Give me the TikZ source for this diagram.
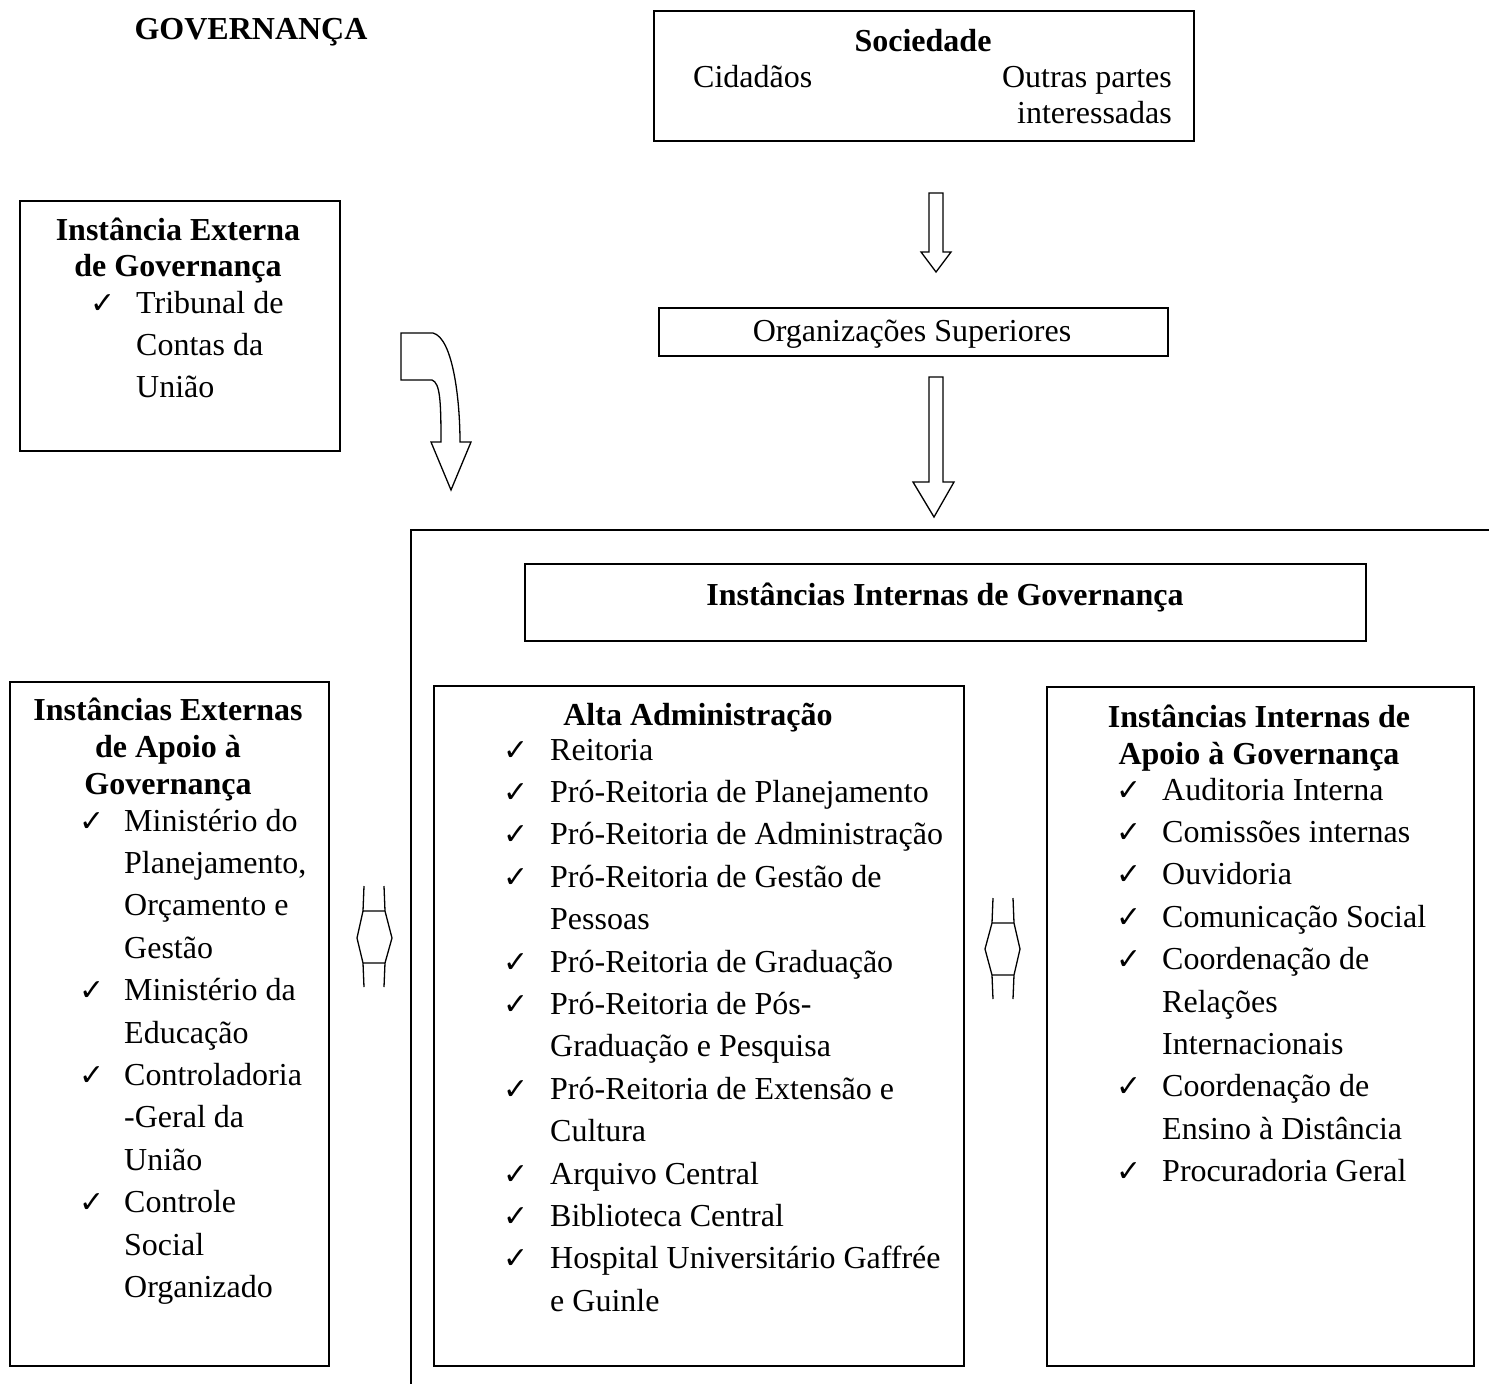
\documentclass[tikz,border=0pt]{standalone}
\usepackage{fontspec}
\setmainfont{Liberation Serif}
\newfontfamily\symf{DejaVu Sans}
\newcommand{\lines}[1]{\begin{tabular}[t]{@{}l@{}}#1\end{tabular}}
\begin{document}
\begin{tikzpicture}[x=1pt,y=-1pt,
  box/.style={draw,line width=1.6pt,inner sep=0pt,anchor=north west},
  txt/.style={font=\fontsize{32}{42.4}\selectfont,inner sep=0pt,anchor=base west},
  ctr/.style={font=\fontsize{32}{37}\selectfont,inner sep=0pt,anchor=base},
  hdr/.style={font=\fontsize{32}{37}\bfseries\selectfont,inner sep=0pt,anchor=base},
  chk/.style={font=\fontsize{30}{30}\symf\bfseries\selectfont,inner sep=0pt,anchor=base west},
  blk/.style={draw,line width=1.3pt,line join=miter,fill=white}]
\useasboundingbox (0,0) rectangle (1489,1384);

% title
\node[hdr] (title) at (251,39) {GOVERNANÇA};

% Sociedade
\node[box,minimum width=540pt,minimum height=130pt] (soc) at (653,10) {};
\node[hdr] (socT) at (923,51) {Sociedade};
\node[txt] (cid) at (693,87) {Cidadãos};
\node[ctr,anchor=base east] (out1) at (1172,87) {Outras partes};
\node[ctr,anchor=base east] (out2) at (1172,123) {interessadas};

% arrow 1
\draw[blk] (929,193) -- (943,193) -- (943,252) -- (951,252) -- (936,272) -- (921,252) -- (929,252) -- cycle;

% Organizacoes
\node[box,minimum width=509pt,minimum height=48pt] (org) at (658,307) {};
\node[ctr] (orgT) at (912,341) {Organizações Superiores};

% arrow 2
\draw[blk] (929,377) -- (943,377) -- (943,482) -- (954,482) -- (934,517) -- (913,482) -- (929,482) -- cycle;

% Instancia externa
\node[box,minimum width=320pt,minimum height=250pt] (iext) at (19,200) {};
\node[hdr] (iextT1) at (178,240) {Instância Externa};
\node[hdr] (iextT2) at (178,276) {de Governança};
\node[chk] (ck0) at (90,313) {✓};
\node[txt] (tcu) at (136,313) {\lines{Tribunal de\\Contas da\\União}};

% curved arrow
\draw[blk] (401,333) -- (433,333) .. controls (453,338) and (460,400) .. (460,442)
  -- (471,442) -- (451,490) -- (431,442) -- (441,442)
  .. controls (441,400) and (440,383) .. (432,380) -- (401,380) -- cycle;

% container
\draw[line width=1.6pt] (411,1384) -- (411,530) -- (1489,530);

% Instancias internas
\node[box,minimum width=841pt,minimum height=77pt] (iint) at (524,563) {};
\node[hdr] (iintT) at (945,605) {Instâncias Internas de Governança};

% Left box
\node[box,minimum width=319pt,minimum height=684pt] (eap) at (9,681) {};
\node[hdr] (eapT1) at (168,720) {Instâncias Externas};
\node[hdr] (eapT2) at (168,757) {de Apoio à};
\node[hdr] (eapT3) at (168,794) {Governança};
\node[chk] (ce1) at (79,831) {✓};
\node[txt] (e1) at (124,831) {\lines{Ministério do\\Planejamento,\\Orçamento e\\Gestão}};
\node[chk] (ce2) at (79,1000.6) {✓};
\node[txt] (e2) at (124,1000.6) {\lines{Ministério da\\Educação}};
\node[chk] (ce3) at (79,1085.4) {✓};
\node[txt] (e3) at (124,1085.4) {\lines{Controladoria\\-Geral da\\União}};
\node[chk] (ce4) at (79,1212.6) {✓};
\node[txt] (e4) at (124,1212.6) {\lines{Controle\\Social\\Organizado}};

% double arrows
\draw[line width=1.3pt] (364,886) -- (363,911) -- (357,938) -- (363,963) -- (364,987)
  (384,886) -- (385,911) -- (392,938) -- (385,963) -- (384,987)
  (363,911) -- (385,911) (363,963) -- (385,963);
\draw[line width=1.3pt] (993,898) -- (992,923) -- (985,949) -- (992,975) -- (993,999)
  (1013,898) -- (1014,923) -- (1020,949) -- (1014,975) -- (1013,999)
  (992,923) -- (1014,923) (992,975) -- (1014,975);

% Alta administracao
\node[box,minimum width=530pt,minimum height=680pt] (alta) at (433,685) {};
\node[hdr] (altaT) at (698,725) {Alta Administração};
\node[chk] (ca1) at (503,760) {✓};
\node[txt] (a1) at (550,760) {Reitoria};
\node[chk] (ca2) at (503,802.4) {✓};
\node[txt] (a2) at (550,802.4) {Pró-Reitoria de Planejamento};
\node[chk] (ca3) at (503,844.8) {✓};
\node[txt] (a3) at (550,844.8) {Pró-Reitoria de Administração};
\node[chk] (ca4) at (503,887.2) {✓};
\node[txt] (a4) at (550,887.2) {\lines{Pró-Reitoria de Gestão de\\Pessoas}};
\node[chk] (ca5) at (503,972) {✓};
\node[txt] (a5) at (550,972) {Pró-Reitoria de Graduação};
\node[chk] (ca6) at (503,1014.4) {✓};
\node[txt] (a6) at (550,1014.4) {\lines{Pró-Reitoria de Pós-\\Graduação e Pesquisa}};
\node[chk] (ca7) at (503,1099.2) {✓};
\node[txt] (a7) at (550,1099.2) {\lines{Pró-Reitoria de Extensão e\\Cultura}};
\node[chk] (ca8) at (503,1184) {✓};
\node[txt] (a8) at (550,1184) {Arquivo Central};
\node[chk] (ca9) at (503,1226.4) {✓};
\node[txt] (a9) at (550,1226.4) {Biblioteca Central};
\node[chk] (ca10) at (503,1268.8) {✓};
\node[txt] (a10) at (550,1268.8) {\lines{Hospital Universitário Gaffrée\\e Guinle}};

% Right box
\node[box,minimum width=427pt,minimum height=679pt] (iap) at (1046,686) {};
\node[hdr] (iapT1) at (1259,727) {Instâncias Internas de};
\node[hdr] (iapT2) at (1259,764) {Apoio à Governança};
\node[chk] (ci1) at (1116,800) {✓};
\node[txt] (i1) at (1162,800) {Auditoria Interna};
\node[chk] (ci2) at (1116,842.4) {✓};
\node[txt] (i2) at (1162,842.4) {Comissões internas};
\node[chk] (ci3) at (1116,884.8) {✓};
\node[txt] (i3) at (1162,884.8) {Ouvidoria};
\node[chk] (ci4) at (1116,927.2) {✓};
\node[txt] (i4) at (1162,927.2) {Comunicação Social};
\node[chk] (ci5) at (1116,969.6) {✓};
\node[txt] (i5) at (1162,969.6) {\lines{Coordenação de\\Relações\\Internacionais}};
\node[chk] (ci6) at (1116,1096.8) {✓};
\node[txt] (i6) at (1162,1096.8) {\lines{Coordenação de\\Ensino à Distância}};
\node[chk] (ci7) at (1116,1181.6) {✓};
\node[txt] (i7) at (1162,1181.6) {Procuradoria Geral};
\end{tikzpicture}
\end{document}
